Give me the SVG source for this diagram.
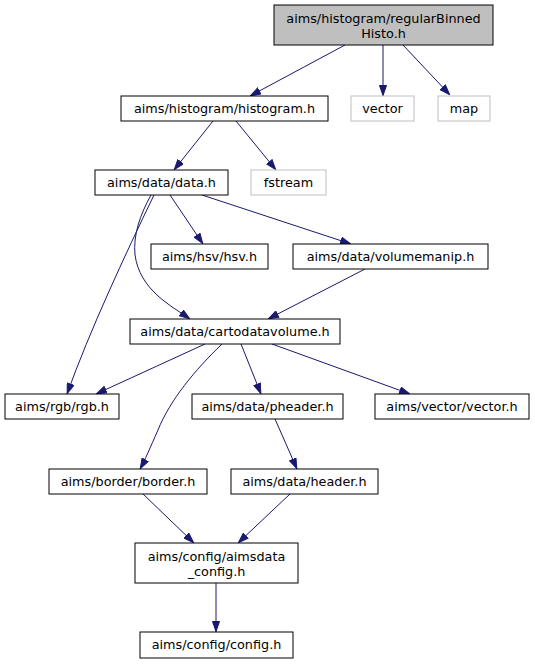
<svg xmlns="http://www.w3.org/2000/svg" width="535" height="664" viewBox="0 0 535 664">
<style>
text{font-family:"DejaVu Sans",sans-serif;font-size:12.8px;fill:#000;text-anchor:middle}
.n rect{fill:#fff;stroke:#000;stroke-width:1}
.g rect{fill:#fff;stroke:#bfbfbf;stroke-width:1}
.e path{fill:none;stroke:#191970;stroke-width:1}
</style>
<defs>
<marker id="a" viewBox="0 0 11 8" refX="11" refY="4" markerWidth="11" markerHeight="8" markerUnits="userSpaceOnUse" orient="auto">
<path d="M0.5,0.5 L10.5,4 L0.5,7.5 z" fill="#191970" stroke="#191970"/>
</marker>
</defs>
<rect width="535" height="664" fill="#fff"/>
<g class="e">
<path d="M345,45 L250,96" marker-end="url(#a)"/>
<path d="M383,45 L383,96" marker-end="url(#a)"/>
<path d="M403,45 L450,95" marker-end="url(#a)"/>
<path d="M213,121 L174,170" marker-end="url(#a)"/>
<path d="M236,121 L276,170" marker-end="url(#a)"/>
<path d="M170,195 L203,244" marker-end="url(#a)"/>
<path d="M202,195 L351,244" marker-end="url(#a)"/>
<path d="M154,195 C125,255 90,330 67,394" marker-end="url(#a)"/>
<path d="M151,195 C140,215 133,235 135,255 C140,290 170,305 190,319" marker-end="url(#a)"/>
<path d="M365,269 L268,319" marker-end="url(#a)"/>
<path d="M205,344 L96,394" marker-end="url(#a)"/>
<path d="M222,344 C195,370 170,400 158,430 C150,448 145,460 140,469" marker-end="url(#a)"/>
<path d="M241,344 L261,394" marker-end="url(#a)"/>
<path d="M272,344 L410,394" marker-end="url(#a)"/>
<path d="M275,419 L297,469" marker-end="url(#a)"/>
<path d="M143,494 L194,543" marker-end="url(#a)"/>
<path d="M290,494 L238,543" marker-end="url(#a)"/>
<path d="M216,583 L216,632" marker-end="url(#a)"/>
</g>
<g id="node1" class="n"><rect x="274" y="5" width="219" height="40" style="fill:#bfbfbf"/><text x="383.5" y="23">aims/histogram/regularBinned</text><text x="383.5" y="38">Histo.h</text></g>
<g id="node2" class="n"><rect x="121" y="96" width="207" height="25"/><text x="224.5" y="113">aims/histogram/histogram.h</text></g>
<g id="node3" class="g"><rect x="351" y="96" width="63" height="25"/><text x="382.5" y="113">vector</text></g>
<g id="node4" class="g"><rect x="438" y="96" width="52" height="25"/><text x="464" y="113">map</text></g>
<g id="node5" class="n"><rect x="95" y="170" width="133" height="25"/><text x="161.5" y="187">aims/data/data.h</text></g>
<g id="node6" class="g"><rect x="251" y="170" width="75" height="25"/><text x="288.5" y="187">fstream</text></g>
<g id="node7" class="n"><rect x="151" y="244" width="117" height="25"/><text x="209.5" y="261">aims/hsv/hsv.h</text></g>
<g id="node8" class="n"><rect x="293" y="244" width="195" height="25"/><text x="390.5" y="261">aims/data/volumemanip.h</text></g>
<g id="node9" class="n"><rect x="130" y="319" width="210" height="25"/><text x="235" y="336">aims/data/cartodatavolume.h</text></g>
<g id="node10" class="n"><rect x="5" y="394" width="114" height="25"/><text x="62" y="411">aims/rgb/rgb.h</text></g>
<g id="node11" class="n"><rect x="192" y="394" width="151" height="25"/><text x="267.5" y="411">aims/data/pheader.h</text></g>
<g id="node12" class="n"><rect x="375" y="394" width="154" height="25"/><text x="452" y="411">aims/vector/vector.h</text></g>
<g id="node13" class="n"><rect x="49" y="469" width="158" height="25"/><text x="128" y="486">aims/border/border.h</text></g>
<g id="node14" class="n"><rect x="231" y="469" width="147" height="25"/><text x="304.5" y="486">aims/data/header.h</text></g>
<g id="node15" class="n"><rect x="135" y="543" width="163" height="40"/><text x="216.5" y="561">aims/config/aimsdata</text><text x="216.5" y="576">_config.h</text></g>
<g id="node16" class="n"><rect x="140" y="632" width="153" height="26"/><text x="216.5" y="649">aims/config/config.h</text></g>
</svg>
